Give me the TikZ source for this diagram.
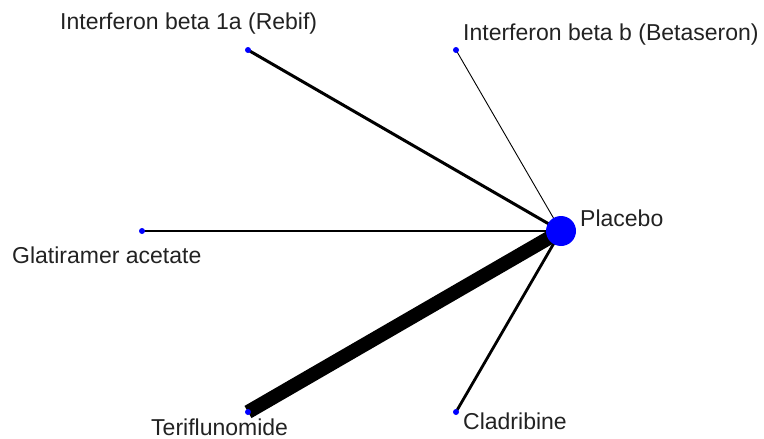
\documentclass[tikz,border=0pt]{standalone}
\usepackage{fontspec}
\setmainfont{Liberation Sans}
\definecolor{dotblue}{RGB}{0,0,255}
\definecolor{labelgray}{RGB}{34,34,34}
\begin{document}
\begin{tikzpicture}[x=1pt,y=-1pt,
  smalldot/.style={circle,fill=dotblue,inner sep=0pt,minimum size=6pt},
  bigdot/.style={circle,fill=dotblue,inner sep=0pt,minimum size=30pt},
  lbl/.style={anchor=base west,inner sep=0pt,text=labelgray,font=\fontsize{23}{27}\selectfont},
  edge/.style={draw=black,line cap=butt}]
\useasboundingbox (0,0) rectangle (764,439);
\coordinate (cP) at (561,231);
\coordinate (cR) at (248,50);
\coordinate (cB) at (456,50);
\coordinate (cG) at (142,231);
\coordinate (cT) at (248,412);
\coordinate (cC) at (456,412);
% edges
\draw[edge,line width=3pt] (cR) -- (cP);
\draw[edge,line width=0.9pt] (cB) -- (cP);
\draw[edge,line width=2.8pt] (cG) -- (cP);
\draw[edge,line width=14pt] (cT) -- (cP);
\draw[edge,line width=2.8pt] (cC) -- (cP);
% nodes
\node[bigdot] (P) at (cP) {};
\node[smalldot] (R) at (cR) {};
\node[smalldot] (B) at (cB) {};
\node[smalldot] (G) at (cG) {};
\node[smalldot] (T) at (cT) {};
\node[smalldot] (C) at (cC) {};
% labels
\node[lbl] (lR) at (60,29) {Interferon beta 1a (Rebif)};
\node[lbl] (lB) at (463,40) {Interferon beta b (Betaseron)};
\node[lbl] (lG) at (12,263) {Glatiramer acetate};
\node[lbl] (lT) at (151,435) {Teriflunomide};
\node[lbl] (lC) at (463,429) {Cladribine};
\node[lbl] (lP) at (580,226) {Placebo};
\end{tikzpicture}
\end{document}
